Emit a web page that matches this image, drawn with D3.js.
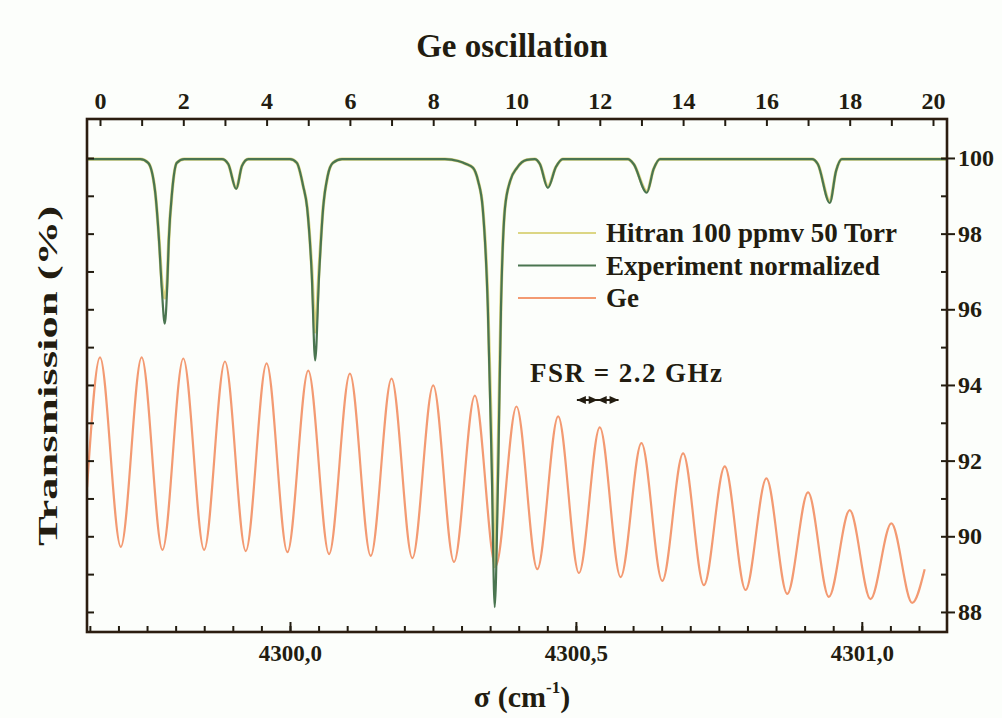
<!DOCTYPE html>
<html>
<head>
<meta charset="utf-8">
<script src="https://cdn.jsdelivr.net/npm/d3@7"></script>
<style>
  body { margin: 0; background: #fcfefb; }
  text { font-family: "Liberation Serif", "DejaVu Serif", serif; font-weight: bold; fill: #221c10; }
</style>
</head>
<body>
<div id="chart"></div>
<script>
// values

// Ge etalon: transmission at each fringe maximum (integer order) and the minimum after it
const geOrder = [0, 1, 2, 3, 4, 5, 6, 7, 8, 9, 10, 11, 12, 13, 14, 15, 16, 17, 18, 19];
const gePeaks = [94.73, 94.73, 94.70, 94.62, 94.57, 94.38, 94.30, 94.17, 93.99, 93.72,
                 93.43, 93.17, 92.88, 92.46, 92.19, 91.85, 91.53, 91.16, 90.69, 90.34];
const geValleys = [89.72, 89.64, 89.64, 89.61, 89.58, 89.53, 89.48, 89.42, 89.32, 89.21,
                   89.13, 89.03, 88.92, 88.82, 88.71, 88.58, 88.48, 88.40, 88.34, 88.24];
const geStart = [-0.31, 91.3];
const geEnd = [19.8, 89.13];

// absorption spectrum (wavenumber in cm-1, transmission in %)
const absWn = [4299.645, 4299.738, 4299.752, 4299.764, 4299.771, 4299.776, 4299.781, 4299.785, 4299.788, 4299.794, 4299.802, 4299.815,
               4299.881, 4299.892, 4299.906, 4299.916, 4299.927,
               4300.000, 4300.012, 4300.023, 4300.030, 4300.038, 4300.044, 4300.051, 4300.058, 4300.066, 4300.075, 4300.091,
               4300.271, 4300.294, 4300.308, 4300.320, 4300.329, 4300.337, 4300.346, 4300.353, 4300.358, 4300.364, 4300.369, 4300.376, 4300.385, 4300.397, 4300.414,
               4300.428, 4300.437, 4300.451, 4300.465, 4300.477,
               4300.591, 4300.601, 4300.624, 4300.636, 4300.647,
               4300.913, 4300.923, 4300.944, 4300.955, 4300.965, 4301.149];
const expT = [99.97, 99.97, 99.87, 99.13, 97.81, 96.49, 95.62, 96.49, 97.81, 99.13, 99.87, 99.97,
              99.97, 99.84, 99.18, 99.79, 99.97,
              99.97, 99.87, 99.26, 98.68, 96.94, 94.65, 96.94, 98.68, 99.53, 99.87, 99.97,
              99.97, 99.92, 99.84, 99.74, 99.39, 98.68, 96.04, 91.67, 88.13, 91.67, 96.04, 98.68, 99.39, 99.74, 99.95,
              99.97, 99.84, 99.21, 99.76, 99.97,
              99.97, 99.84, 99.08, 99.71, 99.97,
              99.97, 99.84, 98.81, 99.66, 99.97, 99.97];
const hitT = [99.97, 99.97, 99.87, 99.13, 97.85, 96.7, 96.3, 96.7, 97.85, 99.13, 99.87, 99.97,
              99.97, 99.84, 99.2, 99.79, 99.97,
              99.97, 99.87, 99.26, 98.7, 97.1, 95.4, 97.1, 98.7, 99.53, 99.87, 99.97,
              99.97, 99.92, 99.84, 99.74, 99.39, 98.7, 96.2, 92.2, 89.2, 92.2, 96.2, 98.7, 99.39, 99.74, 99.95,
              99.97, 99.84, 99.25, 99.76, 99.97,
              99.97, 99.84, 99.12, 99.71, 99.97,
              99.97, 99.84, 98.85, 99.66, 99.97, 99.97];

const legendNames = ["Hitran 100 ppmv 50 Torr", "Experiment normalized", "Ge"];
const colours = ["#dcd684", "#4a7550", "#f39a72"];

const bottomLabels = [4300.0, 4300.5, 4301.0];
const topLabels = [0, 2, 4, 6, 8, 10, 12, 14, 16, 18, 20];
const rightLabels = [88, 90, 92, 94, 96, 98, 100];

width = 1002;
height = 718;
const pLeft = 87, pRight = 947, pTop = 119, pBottom = 632;

const svg = d3.select("#chart")
    .append("svg")
        .attr("width", width)
        .attr("height", height)
        .style("background", "#fcfefb");

const x = d3.scaleLinear().domain([4299.645, 4301.149]).range([pLeft, pRight]);
const xTop = d3.scaleLinear().domain([-0.312, 20.336]).range([pLeft, pRight]);
const y = d3.scaleLinear().domain([87.47, 101.03]).range([pBottom, pTop]);

// curves
const absLine = d3.line()
    .x(function(d, i) { return x(absWn[i]) })
    .y(function(d) { return y(d) })
    .curve(d3.curveMonotoneX);

const gePts = [geStart].concat(geOrder.flatMap(function(n, i) {
    return [[n, gePeaks[i]], [n + 0.5, geValleys[i]]];
})).concat([geEnd]);

const geLine = d3.line()
    .x(function(d) { return xTop(d[0]) })
    .y(function(d) { return y(d[1]) })
    .curve(d3.curveMonotoneX);

const plot = svg.append("g");

plot.append("path")
    .attr("d", geLine(gePts))
    .attr("fill", "none")
    .attr("stroke", colours[2])
    .attr("stroke-width", 2.2);

plot.append("path")
    .attr("d", absLine(hitT))
    .attr("fill", "none")
    .attr("stroke", colours[0])
    .attr("stroke-width", 3.2);

plot.append("path")
    .attr("d", absLine(expT))
    .attr("fill", "none")
    .attr("stroke", colours[1])
    .attr("stroke-width", 2.2);

// axes
function styleAxis(g) {
    g.select(".domain").remove();
    g.selectAll(".tick line").attr("stroke", "#221c10").attr("stroke-width", 2);
    g.selectAll(".tick text").attr("fill", "#221c10").attr("font-family", null);
}

const bottomMinor = d3.range(4299.65, 4301.13, 0.05);
svg.append("g")
    .attr("transform", "translate(0," + pBottom + ")")
    .call(d3.axisBottom(x).tickValues(bottomMinor).tickSize(-6).tickFormat(""))
    .call(styleAxis);
svg.append("g")
    .attr("transform", "translate(0," + pBottom + ")")
    .call(d3.axisBottom(x).tickValues(bottomLabels).tickSize(-10).tickPadding(13)
        .tickFormat(function(d) { return d3.format(".1f")(d).replace(".", ",") }))
    .call(styleAxis)
    .selectAll("text").attr("font-size", 23);

svg.append("g")
    .attr("transform", "translate(0," + pTop + ")")
    .call(d3.axisTop(xTop).tickValues(d3.range(0, 21)).tickSize(-7).tickFormat(""))
    .call(styleAxis);
svg.append("g")
    .attr("transform", "translate(0," + pTop + ")")
    .call(d3.axisTop(xTop).tickValues(topLabels).tickSize(0).tickPadding(10))
    .call(styleAxis)
    .selectAll("text").attr("font-size", 24);

svg.append("g")
    .attr("transform", "translate(" + pLeft + ",0)")
    .call(d3.axisLeft(y).tickValues(d3.range(88, 101)).tickSize(-7).tickFormat(""))
    .call(styleAxis);

svg.append("g")
    .attr("transform", "translate(" + pRight + ",0)")
    .call(d3.axisRight(y).tickValues(d3.range(88, 101)).tickSize(-6).tickFormat(""))
    .call(styleAxis);
svg.append("g")
    .attr("transform", "translate(" + pRight + ",0)")
    .call(d3.axisRight(y).tickValues(rightLabels).tickSize(8).tickPadding(3))
    .call(styleAxis)
    .selectAll("text").attr("font-size", 24);

svg.append("rect")
    .attr("x", pLeft).attr("y", pTop)
    .attr("width", pRight - pLeft).attr("height", pBottom - pTop)
    .attr("fill", "none")
    .attr("stroke", "#2b1d10")
    .attr("stroke-width", 2.6);

// titles
svg.append("text")
    .attr("x", 512).attr("y", 57)
    .attr("text-anchor", "middle")
    .attr("font-size", 33)
    .text("Ge oscillation");

svg.append("text")
    .attr("transform", "translate(57,376) rotate(-90)")
    .attr("text-anchor", "middle")
    .attr("font-size", 28)
    .attr("textLength", 340)
    .attr("lengthAdjust", "spacingAndGlyphs")
    .text("Transmission (%)");

const xt = svg.append("text")
    .attr("x", 522).attr("y", 707)
    .attr("text-anchor", "middle")
    .attr("font-size", 30);
xt.append("tspan").text("σ (cm");
xt.append("tspan").attr("font-size", 17).attr("dy", -14).text("-1");
xt.append("tspan").attr("dy", 14).text(")");

// legend
const legend = svg.append("g");
legendNames.forEach(function(name, i) {
    const ly = 233 + i * 32.5;
    legend.append("line")
        .attr("x1", 518).attr("x2", 596)
        .attr("y1", ly).attr("y2", ly)
        .attr("stroke", colours[i])
        .attr("stroke-width", 2.2);
    legend.append("text")
        .attr("x", 606).attr("y", ly + 9)
        .attr("font-size", 27)
        .text(name);
});

// FSR annotation
svg.append("text")
    .attr("x", 530).attr("y", 382)
    .attr("font-size", 27)
    .attr("textLength", 192)
    .text("FSR = 2.2 GHz");

const arrowY = 400;
const a1 = xTop(11.45), a2 = xTop(12.45);
svg.append("line")
    .attr("x1", a1).attr("x2", a2)
    .attr("y1", arrowY).attr("y2", arrowY)
    .attr("stroke", "#221c10").attr("stroke-width", 2);
[[a1, 1], [a2, -1], [(a1 + a2) / 2, -1], [(a1 + a2) / 2, 1]].forEach(function(p) {
    svg.append("path")
        .attr("d", "M" + p[0] + "," + arrowY + "l" + (p[1] * 9) + ",-4l0,8z")
        .attr("fill", "#221c10");
});
</script>
</body>
</html>
